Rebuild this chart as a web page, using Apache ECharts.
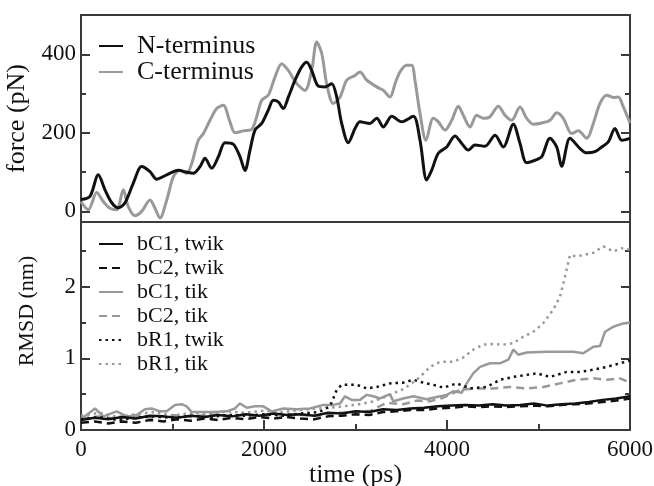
<!DOCTYPE html>
<html>
<head>
<meta charset="utf-8">
<script src="https://cdn.jsdelivr.net/npm/echarts@6/dist/echarts.min.js"></script>
<style>html,body{margin:0;padding:0;background:#fff}#c{width:654px;height:486px}</style>
</head>
<body>
<div id="c"></div>
<script>
// ---- data (time in ps) ----
const nTerminus = [[0,30],[98,38],[189,93],[262,55],[336,22],[408,9],[481,22],[572,72],[663,114],[754,101],[827,82],[937,93],[1063,105],[1137,101],[1227,97],[1301,114],[1355,135],[1428,110],[1501,139],[1574,175],[1665,171],[1738,139],[1792,104],[1847,156],[1902,207],[1975,224],[2047,258],[2102,283],[2156,279],[2211,262],[2266,291],[2339,334],[2412,368],[2467,380],[2521,359],[2593,319],[2667,317],[2740,325],[2795,291],[2849,224],[2921,175],[2995,211],[3049,228],[3158,224],[3232,237],[3304,215],[3396,242],[3505,228],[3632,242],[3705,181],[3778,80],[3833,105],[3905,148],[3997,164],[4087,192],[4161,173],[4233,156],[4306,169],[4415,166],[4525,194],[4615,164],[4725,222],[4798,173],[4871,124],[4980,132],[5035,139],[5126,186],[5199,164],[5254,115],[5344,186],[5454,160],[5527,149],[5617,152],[5691,164],[5763,177],[5836,211],[5909,181],[6000,186]];
const cTerminus = [[0,25],[80,4],[172,48],[244,25],[317,8],[390,4],[462,55],[517,12],[590,-11],[663,0],[754,29],[809,8],[863,-17],[937,29],[1009,88],[1082,105],[1155,97],[1210,122],[1282,181],[1337,198],[1410,232],[1483,262],[1555,270],[1628,228],[1683,200],[1774,205],[1866,209],[1920,241],[1975,283],[2047,296],[2120,342],[2193,376],[2266,359],[2320,338],[2375,321],[2448,308],[2521,359],[2576,431],[2631,402],[2685,325],[2757,275],[2831,291],[2904,334],[2995,346],[3049,355],[3123,334],[3232,317],[3304,308],[3377,291],[3432,325],[3486,355],[3560,372],[3614,372],[3650,334],[3705,249],[3770,181],[3850,237],[3905,228],[3978,207],[4052,232],[4123,268],[4178,245],[4251,215],[4325,245],[4397,237],[4470,241],[4561,268],[4634,245],[4707,232],[4798,266],[4871,237],[4943,222],[5035,225],[5126,232],[5199,251],[5271,237],[5363,198],[5435,205],[5527,186],[5599,224],[5672,275],[5745,296],[5818,290],[5872,291],[5927,266],[6000,225]];

const bC1twik = [[0,0.14],[150,0.17],[300,0.15],[450,0.18],[600,0.16],[750,0.2],[900,0.19],[1050,0.17],[1200,0.2],[1350,0.18],[1500,0.21],[1650,0.19],[1800,0.22],[1950,0.2],[2100,0.23],[2250,0.21],[2400,0.22],[2550,0.2],[2700,0.24],[2850,0.23],[3000,0.26],[3150,0.25],[3300,0.29],[3450,0.28],[3600,0.3],[3750,0.31],[3900,0.33],[4050,0.34],[4200,0.35],[4350,0.34],[4500,0.36],[4650,0.34],[4800,0.35],[4950,0.37],[5100,0.34],[5250,0.36],[5400,0.37],[5550,0.39],[5700,0.42],[5850,0.44],[6000,0.47]];
const bC2twik = [[0,0.1],[150,0.12],[300,0.09],[450,0.12],[600,0.1],[750,0.14],[900,0.12],[1050,0.15],[1200,0.13],[1350,0.16],[1500,0.14],[1650,0.17],[1800,0.15],[1950,0.18],[2100,0.16],[2250,0.18],[2400,0.16],[2550,0.15],[2700,0.19],[2850,0.2],[3000,0.22],[3150,0.21],[3300,0.25],[3450,0.26],[3600,0.28],[3750,0.28],[3900,0.3],[4050,0.31],[4200,0.33],[4350,0.32],[4500,0.33],[4650,0.32],[4800,0.33],[4950,0.34],[5100,0.33],[5250,0.35],[5400,0.36],[5550,0.37],[5700,0.39],[5850,0.41],[6000,0.44]];
const bC1tik = [[0,0.15],[153,0.3],[244,0.19],[390,0.26],[499,0.19],[609,0.21],[699,0.29],[773,0.3],[863,0.26],[937,0.26],[1027,0.35],[1101,0.36],[1155,0.33],[1210,0.25],[1301,0.25],[1446,0.25],[1592,0.26],[1683,0.3],[1738,0.37],[1811,0.31],[1902,0.33],[1992,0.33],[2084,0.26],[2211,0.3],[2357,0.29],[2503,0.3],[2648,0.35],[2757,0.35],[2831,0.37],[2885,0.47],[2958,0.42],[3049,0.42],[3123,0.49],[3195,0.47],[3268,0.44],[3377,0.5],[3413,0.4],[3522,0.44],[3632,0.47],[3778,0.43],[3888,0.46],[3997,0.49],[4069,0.54],[4161,0.52],[4215,0.65],[4287,0.79],[4361,0.88],[4470,0.93],[4579,0.93],[4670,0.98],[4725,1.12],[4779,1.05],[4871,1.08],[5090,1.09],[5380,1.09],[5490,1.07],[5599,1.16],[5672,1.17],[5727,1.37],[5818,1.44],[5909,1.48],[6000,1.5]];
const bC2tik = [[0,0.16],[200,0.19],[400,0.15],[600,0.2],[800,0.17],[1000,0.21],[1200,0.18],[1400,0.22],[1600,0.2],[1800,0.21],[2000,0.2],[2200,0.23],[2400,0.21],[2600,0.2],[2800,0.24],[3000,0.25],[3169,0.27],[3341,0.38],[3522,0.36],[3669,0.41],[3814,0.4],[3960,0.45],[4142,0.56],[4325,0.58],[4506,0.58],[4689,0.6],[4871,0.58],[5053,0.6],[5235,0.65],[5417,0.7],[5599,0.72],[5745,0.7],[5891,0.72],[6000,0.66]];
const bR1twik = [[0,0.15],[200,0.18],[400,0.14],[600,0.17],[800,0.19],[1000,0.17],[1200,0.2],[1400,0.18],[1600,0.21],[1800,0.2],[2000,0.22],[2200,0.2],[2400,0.23],[2600,0.25],[2721,0.33],[2757,0.44],[2795,0.56],[2849,0.63],[3013,0.63],[3123,0.58],[3232,0.6],[3377,0.65],[3522,0.66],[3632,0.7],[3741,0.66],[3851,0.63],[3960,0.59],[4106,0.65],[4251,0.58],[4434,0.6],[4579,0.7],[4725,0.74],[4980,0.79],[5126,0.74],[5308,0.81],[5454,0.81],[5599,0.84],[5745,0.88],[5891,0.93],[6000,0.97]];
const bR1tik = [[0,0.2],[200,0.24],[400,0.18],[600,0.22],[800,0.25],[1000,0.2],[1200,0.24],[1400,0.22],[1600,0.26],[1800,0.24],[2000,0.27],[2200,0.25],[2400,0.28],[2600,0.3],[2800,0.32],[3000,0.35],[3200,0.4],[3341,0.47],[3522,0.57],[3669,0.7],[3705,0.74],[3814,0.88],[3923,0.95],[4069,0.95],[4178,1.01],[4287,1.12],[4397,1.19],[4506,1.2],[4615,1.19],[4725,1.21],[4834,1.3],[4943,1.37],[5053,1.49],[5162,1.68],[5235,1.86],[5290,2.14],[5344,2.44],[5417,2.42],[5490,2.44],[5599,2.47],[5708,2.56],[5818,2.49],[5927,2.54],[6000,2.51]];

const timeTicks = [0, 2000, 4000, 6000];
const timeMinor = [1000, 3000, 5000];
const forceTicks = [0, 200, 400];
const forceMinor = [100, 300];
const rmsdTicks = [0, 1, 2];
const rmsdMinor = [0.5, 1.5, 2.5];

const FONT = 'Liberation Serif';
const FRAME = '#3a3a3a';
const BLACK = '#111';
const GRAY = '#999';
const plain = function (v) { return String(v); };

function yAx(grid, min, max, major, minor, opts) {
  const base = {
    type: 'value', gridIndex: grid, min: min, max: max,
    axisLine: {show: false}, splitLine: {show: false}
  };
  const axes = [];
  axes.push(Object.assign({}, base, {
    position: 'left',
    name: opts.name, nameLocation: 'middle', nameGap: opts.nameGap,
    nameTextStyle: {fontFamily: FONT, fontSize: opts.nameSize, color: BLACK, padding: opts.namePad || 0},
    axisTick: {show: true, inside: true, length: 9, customValues: major, lineStyle: {color: FRAME, width: 2}},
    axisLabel: {show: true, customValues: major, formatter: plain, margin: 5, fontFamily: FONT, fontSize: 23, color: BLACK,
      verticalAlign: 'middle', verticalAlignMinLabel: 'middle', verticalAlignMaxLabel: 'middle'}
  }));
  axes.push(Object.assign({}, base, {
    position: 'left',
    axisTick: {show: true, inside: true, length: 5, customValues: minor, lineStyle: {color: FRAME, width: 2}},
    axisLabel: {show: false}
  }));
  axes.push(Object.assign({}, base, {
    position: 'right',
    axisTick: {show: true, inside: true, length: 9, customValues: major, lineStyle: {color: FRAME, width: 2}},
    axisLabel: {show: false}
  }));
  axes.push(Object.assign({}, base, {
    position: 'right',
    axisTick: {show: true, inside: true, length: 5, customValues: minor, lineStyle: {color: FRAME, width: 2}},
    axisLabel: {show: false}
  }));
  return axes;
}

const chart = echarts.init(document.getElementById('c'), null, {renderer: 'canvas'});
const yAxes = [].concat(
  yAx(0, -27, 500, forceTicks, forceMinor, {name: 'force (pN)', nameGap: 42, nameSize: 26}),
  yAx(1, 0, 2.9, rmsdTicks, rmsdMinor, {name: 'RMSD (nm)', nameGap: 43, nameSize: 22, namePad: [0, 0, 0, 30]})
);

const xBase = {type: 'value', min: 0, max: 6000, axisLine: {show: false}, splitLine: {show: false}};
const xAxes = [
  Object.assign({}, xBase, {gridIndex: 0, axisTick: {show: false}, axisLabel: {show: false}}),
  Object.assign({}, xBase, {gridIndex: 1, position: 'bottom',
    name: 'time (ps)', nameLocation: 'middle', nameGap: 29,
    nameTextStyle: {fontFamily: FONT, fontSize: 26, color: BLACK},
    axisTick: {show: true, inside: true, length: 10, customValues: timeTicks, lineStyle: {color: FRAME, width: 2}},
    axisLabel: {show: true, customValues: timeTicks, formatter: plain, margin: 8, fontFamily: FONT, fontSize: 23, color: BLACK,
      align: 'center', alignMinLabel: 'center', alignMaxLabel: 'center'}}),
  Object.assign({}, xBase, {gridIndex: 1, position: 'bottom',
    axisTick: {show: true, inside: true, length: 6, customValues: timeMinor, lineStyle: {color: FRAME, width: 2}},
    axisLabel: {show: false}})
];

function line(name, data, xi, yi, color, type, width, smooth, z) {
  return {
    name: name, type: 'line', data: data, xAxisIndex: xi, yAxisIndex: yi,
    symbol: 'none', smooth: smooth, z: z, animation: false,
    lineStyle: {color: color, type: type, width: width, cap: 'butt'},
    itemStyle: {color: color}
  };
}

const legendCommon = {
  orient: 'vertical', left: 93, itemWidth: 24, itemHeight: 14, itemGap: 0,
  itemStyle: {opacity: 0, borderWidth: 0}
};

const option = {
  animation: false,
  backgroundColor: '#fff',
  grid: [
    {left: 81, right: 24, top: 15, height: 207, containLabel: false, outerBoundsMode: 'none', show: true, borderColor: FRAME, borderWidth: 2, backgroundColor: 'transparent'},
    {left: 81, right: 24, top: 222, height: 208, containLabel: false, outerBoundsMode: 'none', show: true, borderColor: FRAME, borderWidth: 2, backgroundColor: 'transparent'}
  ],
  xAxis: xAxes,
  yAxis: yAxes,
  legend: [
    Object.assign({}, legendCommon, {top: 28,
     data: ['N-terminus', 'C-terminus'],
     textStyle: {fontFamily: FONT, fontSize: 26, color: BLACK, lineHeight: 25, padding: [0, 0, 0, 9]}}),
    Object.assign({}, legendCommon, {top: 227,
     data: ['bC1, twik', 'bC2, twik', 'bC1, tik', 'bC2, tik', 'bR1, twik', 'bR1, tik'],
     textStyle: {fontFamily: FONT, fontSize: 22, color: BLACK, lineHeight: 24, padding: [0, 0, 0, 9]}})
  ],
  series: [
    line('C-terminus', cTerminus, 0, 0, GRAY, 'solid', 3, 0.3, 2),
    line('N-terminus', nTerminus, 0, 0, BLACK, 'solid', 3, 0.3, 3),
    line('bR1, tik', bR1tik, 1, 4, GRAY, [2.5, 4], 2.5, false, 2),
    line('bC2, tik', bC2tik, 1, 4, GRAY, [8, 5], 2.5, false, 2),
    line('bC1, tik', bC1tik, 1, 4, GRAY, 'solid', 2.5, false, 2),
    line('bR1, twik', bR1twik, 1, 4, BLACK, [2.5, 4], 2.5, false, 3),
    line('bC2, twik', bC2twik, 1, 4, BLACK, [8, 5], 2.5, false, 3),
    line('bC1, twik', bC1twik, 1, 4, BLACK, 'solid', 2.5, false, 3)
  ]
};
chart.setOption(option);
</script>
</body>
</html>
